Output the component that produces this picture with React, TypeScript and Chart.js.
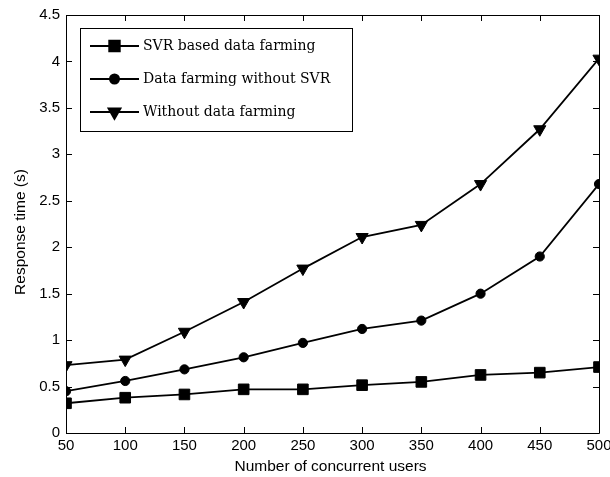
import React, { useEffect, useRef } from "react";
import { Chart, registerables } from "chart.js";
import { drawPoint } from "chart.js/helpers";

Chart.register(...registerables);

const users = [50, 100, 150, 200, 250, 300, 350, 400, 450, 500];
const svrBased = [0.32, 0.38, 0.415, 0.47, 0.47, 0.515, 0.55, 0.625, 0.65, 0.71];
const withoutSvr = [0.45, 0.56, 0.685, 0.815, 0.97, 1.12, 1.21, 1.5, 1.9, 2.68];
const withoutFarming = [0.73, 0.79, 1.09, 1.41, 1.77, 2.11, 2.24, 2.68, 3.27, 4.03];

const seriesLabels = ["SVR based data farming", "Data farming without SVR", "Without data farming"];
const xTitle = "Number of concurrent users";
const yTitle = "Response time (s)";
const xRange = [50, 500];
const yRange = [0, 4.5];
const xStep = 50;
const yStep = 0.5;

const SANS = "'Liberation Sans', Arial, sans-serif";
const SERIF = "'DejaVu Serif', serif";

const markers = [
  { style: "rect", radius: 7.5, rotation: 0 },
  { style: "circle", radius: 4.6, rotation: 0 },
  { style: "triangle", radius: 7, rotation: 180 },
];

const framePlugin = {
  id: "matlabFrame",
  afterDraw(chart: any) {
    const { ctx, chartArea } = chart;
    const { left, right, top, bottom } = chartArea;
    const xs = chart.scales.x;
    const ys = chart.scales.y;
    ctx.save();
    ctx.strokeStyle = "#000";
    ctx.lineWidth = 1;
    ctx.beginPath();
    ctx.rect(Math.round(left) + 0.5, Math.round(top) + 0.5, Math.round(right - left), Math.round(bottom - top));
    ctx.stroke();
    const tl = 6;
    ctx.beginPath();
    xs.ticks.forEach((t: any) => {
      const px = Math.round(xs.getPixelForValue(t.value)) + 0.5;
      ctx.moveTo(px, bottom);
      ctx.lineTo(px, bottom - tl);
      ctx.moveTo(px, top);
      ctx.lineTo(px, top + tl);
    });
    ys.ticks.forEach((t: any) => {
      const py = Math.round(ys.getPixelForValue(t.value)) + 0.5;
      ctx.moveTo(left, py);
      ctx.lineTo(left + tl, py);
      ctx.moveTo(right, py);
      ctx.lineTo(right - tl, py);
    });
    ctx.stroke();

    // axis titles
    ctx.fillStyle = "#000";
    ctx.font = `15.5px ${SANS}`;
    ctx.textAlign = "center";
    ctx.textBaseline = "middle";
    ctx.fillText(xTitle, (left + right) / 2 - 2, 467);
    ctx.save();
    ctx.translate(21, 232);
    ctx.rotate(-Math.PI / 2);
    ctx.fillText(yTitle, 0, 0);
    ctx.restore();

    // legend
    const lx = left + 14;
    const ly = top + 13;
    const lw = 272;
    const lh = 103;
    ctx.fillStyle = "#fff";
    ctx.fillRect(lx, ly, lw, lh);
    ctx.strokeStyle = "#000";
    ctx.lineWidth = 1;
    ctx.strokeRect(Math.round(lx) + 0.5, Math.round(ly) + 0.5, lw, lh);
    const rowOffsets = [18, 51, 84];
    chart.data.datasets.forEach((ds: any, i: number) => {
      const y = ly + rowOffsets[i];
      ctx.strokeStyle = "#000";
      ctx.lineWidth = 1.8;
      ctx.beginPath();
      ctx.moveTo(lx + 10, y);
      ctx.lineTo(lx + 59, y);
      ctx.stroke();
      ctx.fillStyle = "#000";
      drawPoint(ctx, { pointStyle: ds.pointStyle, radius: ds.pointRadius, rotation: ds.pointRotation, borderWidth: 1 }, lx + 34.5, y);
      ctx.fillStyle = "#000";
      ctx.font = `14px ${SERIF}`;
      ctx.textAlign = "left";
      ctx.textBaseline = "middle";
      ctx.fillText(ds.label, lx + 63, y);
    });
    ctx.restore();
  },
};

export default function App() {
  const ref = useRef<HTMLCanvasElement>(null);
  useEffect(() => {
    if (!ref.current) return;
    const seriesData = [svrBased, withoutSvr, withoutFarming];
    const chart = new Chart(ref.current, {
      type: "line",
      data: {
        datasets: seriesData.map((vals, i) => ({
          label: seriesLabels[i],
          data: users.map((u, j) => ({ x: u, y: vals[j] })),
          borderColor: "#000",
          backgroundColor: "#000",
          borderWidth: 1.8,
          pointStyle: markers[i].style as any,
          pointRadius: markers[i].radius,
          pointRotation: markers[i].rotation,
          pointBackgroundColor: "#000",
          pointBorderColor: "#000",
          pointBorderWidth: 1,
          tension: 0,
          fill: false,
        })),
      },
      options: {
        responsive: false,
        animation: false,
        devicePixelRatio: 1,
        layout: { padding: { left: 0, top: 15, right: 11, bottom: 0 } },
        plugins: { legend: { display: false }, tooltip: { enabled: false }, title: { display: false } },
        scales: {
          x: {
            type: "linear",
            min: xRange[0],
            max: xRange[1],
            grid: { display: false, drawTicks: false },
            border: { display: false },
            ticks: {
              stepSize: xStep,
              color: "#000",
              font: { family: SANS, size: 15 },
              padding: 4,
              maxRotation: 0,
              autoSkip: false,
            },
            afterFit: (s: any) => {
              s.height = 44;
              s.paddingLeft = 0;
              s.paddingRight = 0;
            },
          },
          y: {
            min: yRange[0],
            max: yRange[1],
            grid: { display: false, drawTicks: false },
            border: { display: false },
            ticks: {
              stepSize: yStep,
              color: "#000",
              font: { family: SANS, size: 15 },
              padding: 6,
              callback: (v: any) => String(Math.round(Number(v) * 10) / 10),
            },
            afterFit: (s: any) => {
              s.width = 66;
              s.paddingTop = 0;
              s.paddingBottom = 0;
            },
          },
        },
      },
      plugins: [framePlugin],
    });
    return () => chart.destroy();
  }, []);
  return (
    <div style={{ position: "absolute", left: 0, top: 0, width: 610, height: 477, background: "#fff" }}>
      <canvas ref={ref} width={610} height={477} style={{ display: "block" }} />
    </div>
  );
}
